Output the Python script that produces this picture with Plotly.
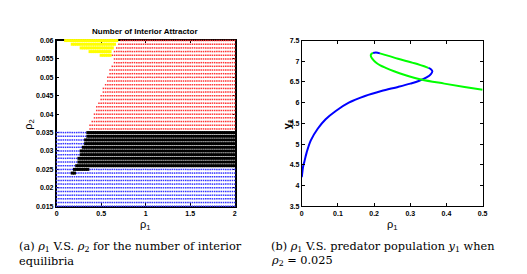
import numpy as np
import plotly.graph_objects as go

W, H = 527, 274

# ---------------- Panel (a): parameter scan grid ----------------
rho1_grid = np.round(np.arange(0, 2.0001, 0.025), 4)
rho2_rows = [0.015, 0.016, 0.017, 0.018, 0.019, 0.020, 0.021, 0.022, 0.023, 0.024,
             0.025, 0.026, 0.027, 0.028, 0.029, 0.030, 0.031, 0.032, 0.033, 0.034,
             0.035, 0.036, 0.037, 0.038, 0.039, 0.040, 0.041, 0.042, 0.043, 0.044,
             0.045, 0.046, 0.047, 0.048, 0.049, 0.050, 0.051, 0.052, 0.053, 0.054,
             0.055, 0.056, 0.057, 0.058, 0.059, 0.060]

blue_top = 0.035
black_rows = [0.024, 0.025, 0.026, 0.027, 0.028, 0.029, 0.030, 0.031, 0.032, 0.033, 0.034, 0.035]
black_lo = [0.17, 0.19, 0.21, 0.23, 0.245, 0.26, 0.275, 0.29, 0.305, 0.32, 0.335, 0.35]
black_hi = [0.21, 0.37, 2.0, 2.0, 2.0, 2.0, 2.0, 2.0, 2.0, 2.0, 2.0, 2.0]

red_rows = [0.036, 0.037, 0.038, 0.039, 0.040, 0.041, 0.042, 0.043, 0.044, 0.045,
            0.046, 0.047, 0.048, 0.049, 0.050, 0.051, 0.052, 0.053, 0.054, 0.055,
            0.056, 0.057, 0.058, 0.059, 0.060]
red_lo = [0.36, 0.375, 0.39, 0.405, 0.42, 0.435, 0.45, 0.465, 0.48, 0.495,
          0.51, 0.525, 0.54, 0.555, 0.57, 0.585, 0.60, 0.615, 0.63, 0.645,
          0.625, 0.645, 0.665, 0.685, 0.705]

yellow_rows = [0.056, 0.057, 0.058, 0.059, 0.060]
yellow_lo = [0.48, 0.36, 0.26, 0.16, 0.08]
yellow_hi = [0.60, 0.62, 0.64, 0.66, 0.68]

pts = {"blue": ([], []), "black": ([], []), "red": ([], []), "yellow": ([], [])}
for r2 in rho2_rows:
    for r1 in rho1_grid:
        cat = None
        if r2 in black_rows:
            i = black_rows.index(r2)
            if black_lo[i] <= r1 <= black_hi[i]:
                cat = "black"
        if cat is None and r2 <= blue_top + 1e-9:
            cat = "blue"
        if cat is None and r2 in yellow_rows:
            i = yellow_rows.index(r2)
            if yellow_lo[i] <= r1 <= yellow_hi[i]:
                cat = "yellow"
        if cat is None and r2 in red_rows:
            i = red_rows.index(r2)
            if r1 >= red_lo[i]:
                cat = "red"
        if cat:
            pts[cat][0].append(r1)
            pts[cat][1].append(r2)

# ---------------- Panel (b): y1 vs rho1 ----------------
blue1_rho1 = [0.0, 0.002, 0.004, 0.007, 0.0136, 0.025, 0.044, 0.066, 0.094, 0.13, 0.175,
              0.22, 0.266, 0.30, 0.325, 0.345, 0.357, 0.361, 0.357, 0.35]
blue1_y1 = [4.2, 4.35, 4.47, 4.57, 4.8, 5.09, 5.37, 5.6, 5.8, 6.0, 6.16,
            6.28, 6.38, 6.46, 6.53, 6.61, 6.69, 6.76, 6.81, 6.84]
green1_rho1 = [0.35, 0.312, 0.266, 0.24, 0.216]
green1_y1 = [6.84, 6.95, 7.06, 7.13, 7.19]
blue2_rho1 = [0.216, 0.205, 0.197]
blue2_y1 = [7.19, 7.21, 7.2]
green2_rho1 = [0.197, 0.191, 0.192, 0.197, 0.205, 0.217, 0.232, 0.255, 0.285, 0.33, 0.394, 0.45, 0.5]
green2_y1 = [7.2, 7.16, 7.1, 7.04, 6.97, 6.9, 6.84, 6.76, 6.67, 6.56, 6.46, 6.38, 6.31]

fig = go.Figure()

marker_style = {
    "blue": dict(color="rgb(50,50,255)", size=1.5, symbol="square"),
    "red": dict(color="rgb(255,50,50)", size=1.5, symbol="square"),
    "black": dict(color="black", size=3.0, symbol="square"),
    "yellow": dict(color="rgb(255,255,0)", size=3.0, symbol="square"),
}
for cat in ["blue", "red", "black", "yellow"]:
    fig.add_trace(go.Scatter(x=pts[cat][0], y=pts[cat][1], mode="markers",
                             marker=dict(line=dict(width=0), **marker_style[cat]),
                             cliponaxis=False, xaxis="x", yaxis="y", hoverinfo="skip"))

for xs, ys, col in [(blue1_rho1, blue1_y1, "rgb(0,0,255)"),
                    (green1_rho1, green1_y1, "rgb(0,255,0)"),
                    (blue2_rho1, blue2_y1, "rgb(0,0,255)"),
                    (green2_rho1, green2_y1, "rgb(0,255,0)")]:
    fig.add_trace(go.Scatter(x=xs, y=ys, mode="lines", line=dict(color=col, width=2, shape="spline"),
                             xaxis="x2", yaxis="y2", hoverinfo="skip"))

tickfont = dict(family="Liberation Sans, Arial", size=7, color="black", weight="bold")
ax_common = dict(showline=True, linecolor="black", mirror="ticks", ticks="inside", ticklen=3,
                 tickcolor="black", showgrid=False, zeroline=False, tickfont=tickfont)

y_top = 1 - 29.3 / H
y_bot = 1 - 199.3 / H

fig.update_layout(
    width=W, height=H, margin=dict(l=0, r=0, t=0, b=0),
    paper_bgcolor="white", plot_bgcolor="white", showlegend=False,
    xaxis=dict(domain=[47.3 / W, 227.7 / W], range=[0, 2], anchor="y",
               tickvals=[0, 0.5, 1, 1.5, 2], ticktext=["0", "0.5", "1", "1.5", "2"],
               layer="below traces", linewidth=1.5, **ax_common),
    yaxis=dict(domain=[y_bot, y_top], range=[0.015, 0.06], anchor="x",
               tickvals=[0.015, 0.02, 0.025, 0.03, 0.035, 0.04, 0.045, 0.05, 0.055, 0.06],
               ticktext=["0.015", "0.02", "0.025", "0.03", "0.035", "0.04", "0.045", "0.05", "0.055", "0.06"],
               layer="below traces", linewidth=1.5, **ax_common),
    xaxis2=dict(domain=[295.7 / W, 479 / W], range=[0, 0.5], anchor="y2",
                tickvals=[0, 0.1, 0.2, 0.3, 0.4, 0.5], ticktext=["0", "0.1", "0.2", "0.3", "0.4", "0.5"],
                linewidth=1, **ax_common),
    yaxis2=dict(domain=[y_bot, y_top], range=[3.5, 7.5], anchor="x2",
                tickvals=[3.5, 4, 4.5, 5, 5.5, 6, 6.5, 7, 7.5],
                ticktext=["3.5", "4", "4.5", "5", "5.5", "6", "6.5", "7", "7.5"],
                linewidth=1, **ax_common),
)

def px(x, y):
    return x / W, 1 - y / H

annots = []
def add_text(x, y, text, size, family, xanchor="center", angle=0, bold=False):
    ax, ay = px(x, y)
    annots.append(dict(x=ax, y=ay, xref="paper", yref="paper", text=text, showarrow=False,
                       xanchor=xanchor, yanchor="middle", textangle=angle,
                       font=dict(size=size, family=family, color="black",
                                 weight="bold" if bold else "normal")))

sans = "Liberation Sans, Arial"
serif = "DejaVu Serif"
add_text(137, 19.5, "Number of Interior Attractor", 8, sans, bold=True)
add_text(19, 115, "ρ<sub>2</sub>", 11, sans, angle=-90)
add_text(137, 219, "ρ<sub>1</sub>", 11, sans)
add_text(282, 115, "y<sub>1</sub>", 11, sans, angle=-90, bold=True)
add_text(388, 219, "ρ<sub>1</sub>", 11, sans)

add_text(7, 241, "(a) <i>ρ</i><sub>1</sub> V.S. <i>ρ</i><sub>2</sub> for the number of interior", 11.3, serif, xanchor="left")
add_text(7, 256, "equilibria", 11.3, serif, xanchor="left")
add_text(262, 241, "(b) <i>ρ</i><sub>1</sub> V.S. predator population <i>y</i><sub>1</sub> when", 11.3, serif, xanchor="left")
add_text(262, 256, "<i>ρ</i><sub>2</sub> = 0.025", 11.3, serif, xanchor="left")

fig.update_layout(annotations=annots)
fig.write_html("out.html")
